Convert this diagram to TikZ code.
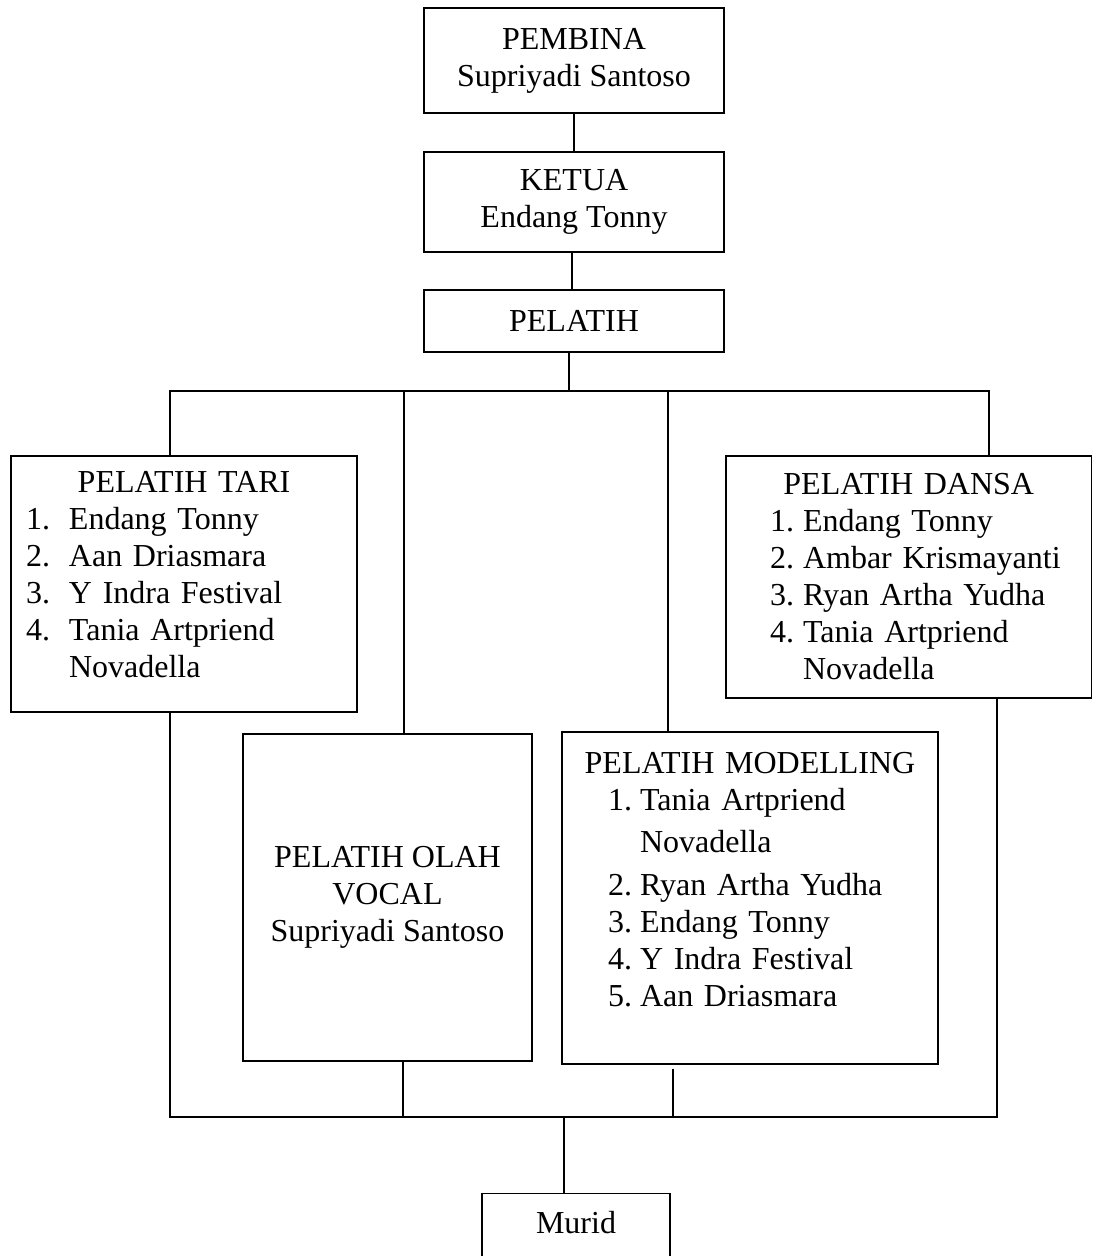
\documentclass[tikz,border=0pt]{standalone}
\usepackage{fontspec}
\setmainfont{Liberation Serif}
\usetikzlibrary{positioning,calc}
\newcommand{\itm}[3]{\mbox{\makebox[#1][l]{#2}#3}}
\newcommand{\hd}[1]{\makebox[\linewidth]{#1}}

\begin{document}
\begin{tikzpicture}[x=0.5pt,y=-0.5pt,font=\fontsize{16pt}{18.5pt}\selectfont,
  box/.style={draw,line width=0.65pt,inner sep=0pt},
  link/.style={line width=1.3pt}]
\useasboundingbox (0,0) rectangle (1093,1256);
\node[box,minimum width=150pt,minimum height=52.5pt,align=center] (pembina) at (574,60.5) {PEMBINA\\Supriyadi Santoso};
\node[box,minimum width=150pt,minimum height=50pt,align=center] (ketua) at (574,202) {KETUA\\Endang Tonny};
\node[box,minimum width=150pt,minimum height=31pt] (pelatih) at (574,321) {PELATIH};
\node[box,text width=158pt,inner xsep=7.5pt,minimum height=128pt,align=left] (tari) at (184,584)
  {\hd{PELATIH TARI}\\\itm{21.5pt}{1.}{Endang Tonny}\\\itm{21.5pt}{2.}{Aan Driasmara}\\\itm{21.5pt}{3.}{Y Indra Festival}\\\itm{21.5pt}{4.}{Tania Artpriend}\\\mbox{\hspace{21.5pt}Novadella}\\[-9pt]\mbox{}};
\node[box,text width=138.75pt,inner xsep=22pt,minimum height=121pt,align=left] (dansa) at (908.75,577)
  {\hd{PELATIH DANSA}\\\itm{16.5pt}{1.}{Endang Tonny}\\\itm{16.5pt}{2.}{Ambar Krismayanti}\\\itm{16.5pt}{3.}{Ryan Artha Yudha}\\\itm{16.5pt}{4.}{Tania Artpriend}\\\mbox{\hspace{16.5pt}Novadella}};
\node[box,minimum width=144.5pt,minimum height=163.5pt,align=center] (vocal) at (387.5,897.5) {PELATIH OLAH\\VOCAL\\Supriyadi Santoso};
\node[box,text width=142pt,inner xsep=23pt,minimum height=166pt,align=left] (model) at (750,898)
  {\hd{PELATIH MODELLING}\\\itm{16pt}{1.}{Tania Artpriend}\\[2.5pt]\mbox{\hspace{16pt}Novadella}\\[3pt]\itm{16pt}{2.}{Ryan Artha Yudha}\\\itm{16pt}{3.}{Endang Tonny}\\\itm{16pt}{4.}{Y Indra Festival}\\\itm{16pt}{5.}{Aan Driasmara}\\\mbox{}};
\node[box,anchor=north,minimum width=94pt,inner ysep=9pt,text depth=25pt] (murid) at (576,1193) {Murid};
\coordinate (busL) at (170,391);
\coordinate (busR) at (989,391);
\coordinate (busV) at (404,391);
\coordinate (busM) at (668,391);
\coordinate (busP) at (569,391);
\coordinate (botL) at (170,1117);
\coordinate (botR) at (997,1117);
\coordinate (botV) at (403,1117);
\coordinate (botM) at (673,1117);
\coordinate (botU) at (564,1117);
\draw[link] (pembina) -- (ketua);
\draw[link] ([xshift=-1pt]ketua.south) -- ([xshift=-1pt]pelatih.north);
\draw[link] (pelatih.south -| busP) -- (busP);
\draw[link] (tari.north -| busL) -- (busL) -- (busR) -- (busR |- dansa.north);
\draw[link] (busV) -- (busV |- vocal.north);
\draw[link] (busM) -- (busM |- model.north);
\draw[link] (tari.south -| botL) -- (botL) -- (botR) -- (dansa.south -| botR);
\draw[link] (vocal.south -| botV) -- (botV);
\draw[link] ([yshift=-2pt]model.south -| botM) -- (botM);
\draw[link] (botU) -- (botU |- murid.north);
\end{tikzpicture}
\end{document}
